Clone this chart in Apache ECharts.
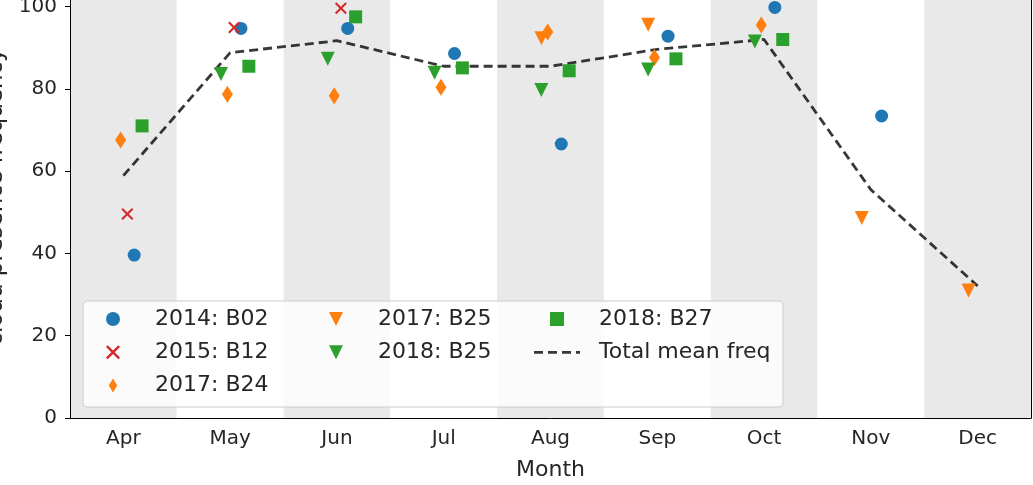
<!DOCTYPE html>
<html>
<head>
<meta charset="utf-8">
<script src="https://cdn.jsdelivr.net/npm/echarts@6/dist/echarts.min.js"></script>
<style>
  html, body { margin: 0; padding: 0; background: #fff; }
  #main { width: 1033px; height: 485px; }
</style>
</head>
<body>
<div id="main"></div>
<script>
// months on the x axis
var months = ['Apr', 'May', 'Jun', 'Jul', 'Aug', 'Sep', 'Oct', 'Nov', 'Dec'];

// cloud presence frequency per month, null = no observation
var b02_2014 = [39.6, 94.7, 94.7, 88.6, 66.6, 92.8, 99.8, 73.4, null];
var b12_2015 = [49.6, 94.9, 99.6, null, null, null, null, null, null];
var b24_2017 = [67.6, 78.7, 78.3, 80.4, 93.8, 87.6, 95.5, null, null];
var b25_2017 = [null, null, null, null, 92.3, 95.6, null, 48.6, 31.0];
var b25_2018 = [null, 83.6, 87.3, 83.9, 79.7, 84.7, 91.5, null, null];
var b27_2018 = [71.0, 85.5, 97.5, 85.1, 84.4, 87.3, 92.0, null, null];
var meanFreq = [58.9, 88.8, 91.7, 85.5, 85.5, 89.6, 92.0, 55.5, 32.1];

var yTicks = [0, 20, 40, 60, 80, 100];

// small horizontal shift of each series inside its month band
var offsets = {
    b02_2014: 0.101,
    b12_2015: 0.037,
    b24_2017: -0.026,
    b25_2017: -0.085,
    b25_2018: -0.086,
    b27_2018: 0.175
};

// marker shapes (matplotlib o, x, d, v, s)
var circlePath = 'path://M5,0A5,5,0,1,1,5,10A5,5,0,1,1,5,0Z';
var xPath = 'path://M0,1.2L1.2,0L5,3.8L8.8,0L10,1.2L6.2,5L10,8.8L8.8,10L5,6.2L1.2,10L0,8.8L3.8,5Z';
var thinDiamond = 'path://M3,0L6,5L3,10L0,5Z';
var triDown = 'path://M0,0L10,0L5,10Z';
var squarePath = 'path://M0,0L10,0L10,10L0,10Z';
var dashIcon = 'path://M0,0L9,0L9,2.8L0,2.8Z M14,0L23,0L23,2.8L14,2.8Z M28,0L37,0L37,2.8L28,2.8Z M42,0L46,0L46,2.8L42,2.8Z';

var font = 'DejaVu Sans';
var textColor = '#262626';

function points(values, off) {
    var out = [];
    for (var i = 0; i < values.length; i++) {
        if (values[i] != null) {
            out.push([i + off, values[i]]);
        }
    }
    return out;
}

function scatter(name, values, off, symbol, size, color) {
    return {
        name: name,
        type: 'scatter',
        xAxisIndex: 1,
        yAxisIndex: 0,
        symbol: symbol,
        symbolSize: size,
        data: points(values, off),
        itemStyle: { color: color, opacity: 1 },
        emphasis: { disabled: true },
        z: 3
    };
}

var myChart = echarts.init(document.getElementById('main'), null, { renderer: 'canvas' });

var legendBase = {
    orient: 'vertical',
    top: 308,
    padding: 0,
    itemWidth: 46,
    itemHeight: 14,
    itemGap: 11.3,
    selectedMode: false,
    symbolKeepAspect: true,
    formatter: function (name) {
        return '  ' + name;
    },
    textStyle: {
        fontFamily: font,
        fontSize: 22,
        lineHeight: 22,
        color: textColor
    },
    z: 5
};

option = {
    animation: false,
    textStyle: { fontFamily: font },
    grid: {
        left: 70,
        right: 2,
        top: 0,
        bottom: 67,
        containLabel: false,
        outerBoundsMode: 'none'
    },
    graphic: [{
        type: 'rect',
        shape: { x: 83, y: 301, width: 700, height: 106, r: 4 },
        style: { fill: 'rgba(255,255,255,0.8)', stroke: '#cccccc', lineWidth: 1 },
        z: 4
    }],
    // the legend box starts at the visible icon, so the first two columns sit 16px further right
    legend: [
        Object.assign({}, legendBase, {
            left: 106,
            data: [
                { name: '2014: B02', icon: circlePath },
                { name: '2015: B12', icon: xPath },
                { name: '2017: B24', icon: thinDiamond }
            ]
        }),
        Object.assign({}, legendBase, {
            left: 329,
            data: [
                { name: '2017: B25', icon: triDown },
                { name: '2018: B25', icon: triDown }
            ]
        }),
        Object.assign({}, legendBase, {
            left: 534,
            data: [
                { name: '2018: B27', icon: squarePath },
                { name: 'Total mean freq', icon: dashIcon }
            ]
        })
    ],
    xAxis: [{
        type: 'category',
        data: months,
        boundaryGap: true,
        axisLine: { onZero: false, lineStyle: { color: '#000', width: 1 } },
        axisTick: { alignWithLabel: true, length: 5, lineStyle: { color: '#000' } },
        axisLabel: { fontFamily: font, fontSize: 20, color: textColor, margin: 11 },
        splitLine: { show: false },
        splitArea: { show: true, areaStyle: { color: ['#e9e9e9', '#ffffff'] } },
        name: 'Month',
        nameLocation: 'middle',
        nameGap: 41,
        nameTextStyle: { fontFamily: font, fontSize: 22, color: textColor }
    }, {
        type: 'value',
        min: -0.5,
        max: 8.5,
        show: false
    }],
    yAxis: [{
        type: 'value',
        position: 'left',
        min: 0,
        max: 101.6,
        axisLine: { show: true, onZero: false, lineStyle: { color: '#000', width: 1 } },
        axisTick: { show: true, length: 5, customValues: yTicks, lineStyle: { color: '#000' } },
        axisLabel: { fontFamily: font, fontSize: 20, color: textColor, margin: 13, customValues: yTicks },
        splitLine: { show: false },
        name: 'cloud presence frequency',
        nameLocation: 'middle',
        nameRotate: 90,
        nameGap: 60,
        nameTextStyle: { fontFamily: font, fontSize: 23, color: textColor, padding: [0, 0, 0, 24] }
    }, {
        type: 'value',
        position: 'right',
        min: 0,
        max: 101.6,
        axisLine: { show: true, onZero: false, lineStyle: { color: '#000', width: 1 } },
        axisTick: { show: false },
        axisLabel: { show: false },
        splitLine: { show: false }
    }],
    series: [
        scatter('2014: B02', b02_2014, offsets.b02_2014, 'circle', 13, '#1f77b4'),
        scatter('2015: B12', b12_2015, offsets.b12_2015, xPath, 12, '#d62728'),
        scatter('2017: B24', b24_2017, offsets.b24_2017, thinDiamond, [11, 17], '#ff7f0e'),
        scatter('2017: B25', b25_2017, offsets.b25_2017, triDown, 14, '#ff7f0e'),
        scatter('2018: B25', b25_2018, offsets.b25_2018, triDown, 14, '#2ca02c'),
        scatter('2018: B27', b27_2018, offsets.b27_2018, squarePath, 13, '#2ca02c'),
        {
            name: 'Total mean freq',
            type: 'line',
            xAxisIndex: 1,
            yAxisIndex: 0,
            data: points(meanFreq, 0),
            symbol: 'none',
            lineStyle: { color: 'rgba(0,0,0,0.78)', width: 2.8, type: [9, 5] },
            itemStyle: { color: 'rgba(0,0,0,0.78)' },
            emphasis: { disabled: true },
            z: 2
        }
    ]
};

myChart.setOption(option);
</script>
</body>
</html>
